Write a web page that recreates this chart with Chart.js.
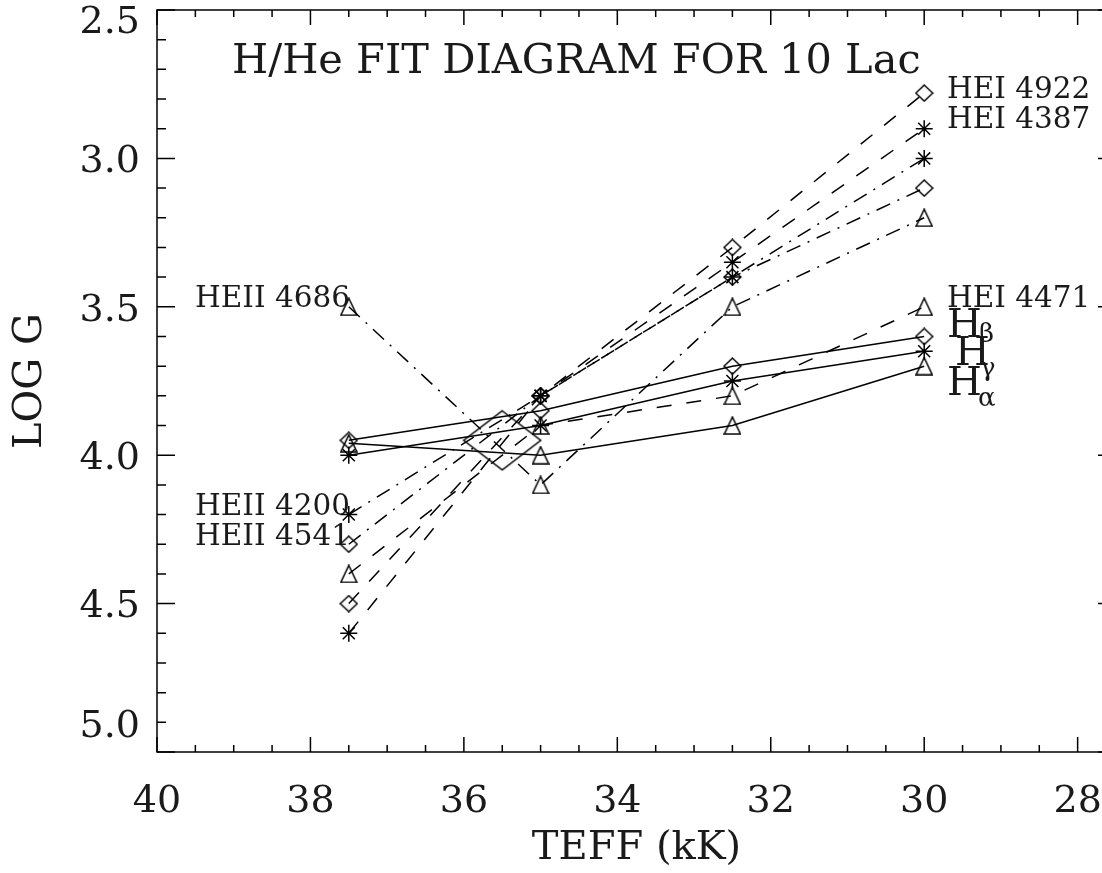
<!DOCTYPE html>
<html>
<head>
<meta charset="utf-8">
<script src="https://cdn.jsdelivr.net/npm/chart.js@4"></script>
<style>
	body { margin: 0; background: #fff; }
	#caja { width: 1102px; height: 873px; overflow: hidden; }
</style>
</head>
<body>
<div id="caja"><canvas id="grafico" width="1120" height="873"></canvas></div>
<script>
// Temperaturas efectivas (kK) de la malla de modelos
const teff = [37.5, 35, 32.5, 30];

// log g de mejor ajuste para cada línea
const hBeta = [3.95, 3.85, 3.7, 3.6];
const hGamma = [4.0, 3.9, 3.75, 3.65];
const hAlpha = [3.96, 4.0, 3.9, 3.7];
const hei4922 = [4.5, 3.8, 3.3, 2.78];
const hei4387 = [4.6, 3.8, 3.35, 2.9];
const hei4471 = [4.4, 3.9, 3.8, 3.5];
const heii4686 = [3.5, 4.1, 3.5, 3.2];
const heii4200 = [4.2, 3.8, 3.4, 3.0];
const heii4541 = [4.3, 3.8, 3.4, 3.1];

// Punto final del ajuste (rombo grande)
const ajusteTeff = [35.5];
const ajusteLogg = [3.95];

// Marcas de los ejes
const xTicks = [40, 38, 36, 34, 32, 30, 28];
const yTicks = [2.5, 3.0, 3.5, 4.0, 4.5, 5.0];

const fuente = "'DejaVu Serif', 'Liberation Serif', serif";
const tinta = "#1a1a1a";

// Dibuja un símbolo hueco en un canvas pequeño para usarlo como pointStyle
const simbolo = (w, h, pts) => {
	const c = document.createElement("canvas");
	c.width = w;
	c.height = h;
	const g = c.getContext("2d");
	g.strokeStyle = "#000";
	g.lineWidth = 1.5;
	g.beginPath();
	pts.forEach((p, i) => (i ? g.lineTo(p[0], p[1]) : g.moveTo(p[0], p[1])));
	g.closePath();
	g.stroke();
	return c;
};

const rombo = simbolo(19, 18, [[9.5, 1], [18, 9], [9.5, 17], [1, 9]]);
const triangulo = simbolo(18, 19, [[9, 1], [17, 18], [1, 18]]);
const romboGrande = simbolo(80, 62, [[40, 1.5], [78.5, 31], [40, 60.5], [1.5, 31]]);

const serie = (valores, estilo, guiones) => ({
	type: "line",
	data: teff.map((t, i) => ({ x: t, y: valores[i] })),
	borderColor: "#000",
	borderWidth: 1.5,
	borderDash: guiones,
	pointStyle: estilo,
	pointRadius: 8.5,
	pointBorderWidth: 1.5,
	pointBorderColor: "#000",
	pointBackgroundColor: "rgba(0,0,0,0)",
	tension: 0,
});

const solida = [];
const rayas = [15, 15];
const rayaPunto = [15, 8, 2, 8];

// Marcas menores, marco del gráfico, etiquetas del eje y y rótulos de las líneas
const adornos = {
	id: "adornos",
	afterDraw(chart) {
		const { ctx, chartArea: a, scales } = chart;
		const sx = scales.x;
		const sy = scales.y;
		ctx.save();
		ctx.strokeStyle = "#000";
		ctx.lineWidth = 1.5;
		ctx.strokeRect(a.left, a.top, a.right - a.left, a.bottom - a.top);

		ctx.beginPath();
		for (let v = 40; v >= 27.5 - 1e-6; v -= 0.5) {
			const px = sx.getPixelForValue(v);
			const largo = Math.abs(v / 2 - Math.round(v / 2)) < 1e-6 ? 15 : 7;
			ctx.moveTo(px, a.bottom);
			ctx.lineTo(px, a.bottom - largo);
			ctx.moveTo(px, a.top);
			ctx.lineTo(px, a.top + largo);
		}
		for (let k = 25; k <= 50; k++) {
			const py = sy.getPixelForValue(k / 10);
			const largo = k % 5 === 0 ? 18 : 9;
			ctx.moveTo(a.left, py);
			ctx.lineTo(a.left + largo, py);
			ctx.moveTo(a.right, py);
			ctx.lineTo(a.right - largo, py);
		}
		ctx.stroke();

		ctx.fillStyle = tinta;
		ctx.font = "38px " + fuente;
		ctx.textAlign = "right";
		ctx.textBaseline = "middle";
		yTicks.forEach((v) => {
			let py = sy.getPixelForValue(v) + 4;
			py = Math.min(Math.max(py, a.top + 13), a.bottom - 25);
			ctx.fillText(v.toFixed(1), a.left - 17, py);
		});

		ctx.textAlign = "left";
		ctx.textBaseline = "alphabetic";
		ctx.font = "41.5px " + fuente;
		ctx.fillText("H/He FIT DIAGRAM FOR 10 Lac", 232, 73);

		ctx.font = "29.5px " + fuente;
		ctx.fillText("HEI 4922", 947, 98);
		ctx.fillText("HEI 4387", 947, 128);
		ctx.fillText("HEI 4471", 947, 307);
		ctx.fillText("HEII 4686", 195, 307);
		ctx.fillText("HEII 4200", 195, 515);
		ctx.fillText("HEII 4541", 195, 545);

		ctx.font = "40px " + fuente;
		ctx.fillText("H", 947, 337);
		ctx.fillText("H", 955, 365);
		ctx.fillText("H", 947, 395);
		ctx.font = "26px " + fuente;
		ctx.fillText("β", 979, 342);
		ctx.fillText("γ", 980, 376);
		ctx.fillText("α", 978, 406);
		ctx.restore();
	},
};

const ctx = document.getElementById("grafico");

const graph = new Chart(ctx, {
	data: {
		datasets: [
			serie(hBeta, rombo, solida),
			serie(hGamma, "star", solida),
			serie(hAlpha, triangulo, solida),
			serie(hei4922, rombo, rayas),
			serie(hei4387, "star", rayas),
			serie(hei4471, triangulo, rayas),
			serie(heii4686, triangulo, rayaPunto),
			serie(heii4200, "star", rayaPunto),
			serie(heii4541, rombo, rayaPunto),
			{
				type: "scatter",
				data: ajusteTeff.map((t, i) => ({ x: t, y: ajusteLogg[i] })),
				pointStyle: romboGrande,
				pointRadius: 30,
			},
		],
	},
	options: {
		responsive: false,
		animation: false,
		layout: { autoPadding: false, padding: { top: 10, right: 4, left: 0, bottom: 0 } },
		plugins: { legend: { display: false }, tooltip: { enabled: false } },
		scales: {
			x: {
				type: "linear",
				reverse: true,
				min: 27.5,
				max: 40,
				afterBuildTicks: (s) => {
					s.ticks = xTicks.map((v) => ({ value: v }));
				},
				afterFit: (s) => {
					s.height = 121;
					s.paddingLeft = 0;
					s.paddingRight = 0;
				},
				grid: { display: false, drawTicks: false },
				border: { display: false },
				ticks: {
					font: { family: fuente, size: 38 },
					color: tinta,
					padding: 27,
					maxRotation: 0,
					autoSkip: false,
				},
				title: {
					display: true,
					text: "TEFF (kK)",
					font: { family: fuente, size: 40 },
					color: tinta,
					padding: { top: 0, bottom: 0 },
				},
			},
			y: {
				type: "linear",
				reverse: true,
				min: 2.5,
				max: 5.0,
				afterFit: (s) => {
					s.width = 157;
					s.paddingTop = 0;
					s.paddingBottom = 0;
				},
				grid: { display: false, drawTicks: false },
				border: { display: false },
				ticks: { display: false, stepSize: 0.5 },
				title: {
					display: true,
					text: "LOG G",
					font: { family: fuente, size: 40 },
					color: tinta,
					padding: { top: 7, bottom: 0 },
				},
			},
		},
	},
	plugins: [adornos],
});
</script>
</body>
</html>
